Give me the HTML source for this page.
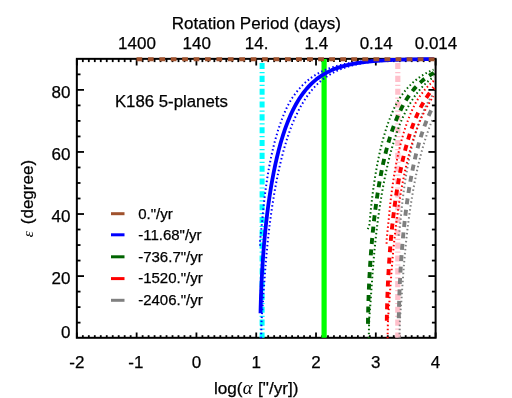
<!DOCTYPE html>
<html><head><meta charset="utf-8"><style>
html,body{margin:0;padding:0;background:#fff;}
svg{display:block;font-family:"Liberation Sans",sans-serif;will-change:transform;}
text{stroke:#000;stroke-width:0.25px;}
</style></head><body>
<svg width="512" height="398" viewBox="0 0 512 398">
<rect width="512" height="398" fill="#fff"/>
<rect x="76.85" y="58.85" width="358.75" height="278.95" fill="none" stroke="#000" stroke-width="2"/>
<line x1="76.85" y1="337.8" x2="76.85" y2="332.5" stroke="#000" stroke-width="1.8"/>
<line x1="76.85" y1="58.9" x2="76.85" y2="65.5" stroke="#000" stroke-width="1.8"/>
<line x1="82.83" y1="337.8" x2="82.83" y2="335.2" stroke="#000" stroke-width="1.8"/>
<line x1="82.83" y1="58.9" x2="82.83" y2="62.1" stroke="#000" stroke-width="1.8"/>
<line x1="88.81" y1="337.8" x2="88.81" y2="335.2" stroke="#000" stroke-width="1.8"/>
<line x1="88.81" y1="58.9" x2="88.81" y2="62.1" stroke="#000" stroke-width="1.8"/>
<line x1="94.79" y1="337.8" x2="94.79" y2="335.2" stroke="#000" stroke-width="1.8"/>
<line x1="94.79" y1="58.9" x2="94.79" y2="62.1" stroke="#000" stroke-width="1.8"/>
<line x1="100.77" y1="337.8" x2="100.77" y2="335.2" stroke="#000" stroke-width="1.8"/>
<line x1="100.77" y1="58.9" x2="100.77" y2="62.1" stroke="#000" stroke-width="1.8"/>
<line x1="106.75" y1="337.8" x2="106.75" y2="335.2" stroke="#000" stroke-width="1.8"/>
<line x1="106.75" y1="58.9" x2="106.75" y2="62.1" stroke="#000" stroke-width="1.8"/>
<line x1="112.72" y1="337.8" x2="112.72" y2="335.2" stroke="#000" stroke-width="1.8"/>
<line x1="112.72" y1="58.9" x2="112.72" y2="62.1" stroke="#000" stroke-width="1.8"/>
<line x1="118.70" y1="337.8" x2="118.70" y2="335.2" stroke="#000" stroke-width="1.8"/>
<line x1="118.70" y1="58.9" x2="118.70" y2="62.1" stroke="#000" stroke-width="1.8"/>
<line x1="124.68" y1="337.8" x2="124.68" y2="335.2" stroke="#000" stroke-width="1.8"/>
<line x1="124.68" y1="58.9" x2="124.68" y2="62.1" stroke="#000" stroke-width="1.8"/>
<line x1="130.66" y1="337.8" x2="130.66" y2="335.2" stroke="#000" stroke-width="1.8"/>
<line x1="130.66" y1="58.9" x2="130.66" y2="62.1" stroke="#000" stroke-width="1.8"/>
<line x1="136.64" y1="337.8" x2="136.64" y2="332.5" stroke="#000" stroke-width="1.8"/>
<line x1="136.64" y1="58.9" x2="136.64" y2="65.5" stroke="#000" stroke-width="1.8"/>
<line x1="142.62" y1="337.8" x2="142.62" y2="335.2" stroke="#000" stroke-width="1.8"/>
<line x1="142.62" y1="58.9" x2="142.62" y2="62.1" stroke="#000" stroke-width="1.8"/>
<line x1="148.60" y1="337.8" x2="148.60" y2="335.2" stroke="#000" stroke-width="1.8"/>
<line x1="148.60" y1="58.9" x2="148.60" y2="62.1" stroke="#000" stroke-width="1.8"/>
<line x1="154.58" y1="337.8" x2="154.58" y2="335.2" stroke="#000" stroke-width="1.8"/>
<line x1="154.58" y1="58.9" x2="154.58" y2="62.1" stroke="#000" stroke-width="1.8"/>
<line x1="160.56" y1="337.8" x2="160.56" y2="335.2" stroke="#000" stroke-width="1.8"/>
<line x1="160.56" y1="58.9" x2="160.56" y2="62.1" stroke="#000" stroke-width="1.8"/>
<line x1="166.54" y1="337.8" x2="166.54" y2="335.2" stroke="#000" stroke-width="1.8"/>
<line x1="166.54" y1="58.9" x2="166.54" y2="62.1" stroke="#000" stroke-width="1.8"/>
<line x1="172.52" y1="337.8" x2="172.52" y2="335.2" stroke="#000" stroke-width="1.8"/>
<line x1="172.52" y1="58.9" x2="172.52" y2="62.1" stroke="#000" stroke-width="1.8"/>
<line x1="178.50" y1="337.8" x2="178.50" y2="335.2" stroke="#000" stroke-width="1.8"/>
<line x1="178.50" y1="58.9" x2="178.50" y2="62.1" stroke="#000" stroke-width="1.8"/>
<line x1="184.47" y1="337.8" x2="184.47" y2="335.2" stroke="#000" stroke-width="1.8"/>
<line x1="184.47" y1="58.9" x2="184.47" y2="62.1" stroke="#000" stroke-width="1.8"/>
<line x1="190.45" y1="337.8" x2="190.45" y2="335.2" stroke="#000" stroke-width="1.8"/>
<line x1="190.45" y1="58.9" x2="190.45" y2="62.1" stroke="#000" stroke-width="1.8"/>
<line x1="196.43" y1="337.8" x2="196.43" y2="332.5" stroke="#000" stroke-width="1.8"/>
<line x1="196.43" y1="58.9" x2="196.43" y2="65.5" stroke="#000" stroke-width="1.8"/>
<line x1="202.41" y1="337.8" x2="202.41" y2="335.2" stroke="#000" stroke-width="1.8"/>
<line x1="202.41" y1="58.9" x2="202.41" y2="62.1" stroke="#000" stroke-width="1.8"/>
<line x1="208.39" y1="337.8" x2="208.39" y2="335.2" stroke="#000" stroke-width="1.8"/>
<line x1="208.39" y1="58.9" x2="208.39" y2="62.1" stroke="#000" stroke-width="1.8"/>
<line x1="214.37" y1="337.8" x2="214.37" y2="335.2" stroke="#000" stroke-width="1.8"/>
<line x1="214.37" y1="58.9" x2="214.37" y2="62.1" stroke="#000" stroke-width="1.8"/>
<line x1="220.35" y1="337.8" x2="220.35" y2="335.2" stroke="#000" stroke-width="1.8"/>
<line x1="220.35" y1="58.9" x2="220.35" y2="62.1" stroke="#000" stroke-width="1.8"/>
<line x1="226.33" y1="337.8" x2="226.33" y2="335.2" stroke="#000" stroke-width="1.8"/>
<line x1="226.33" y1="58.9" x2="226.33" y2="62.1" stroke="#000" stroke-width="1.8"/>
<line x1="232.31" y1="337.8" x2="232.31" y2="335.2" stroke="#000" stroke-width="1.8"/>
<line x1="232.31" y1="58.9" x2="232.31" y2="62.1" stroke="#000" stroke-width="1.8"/>
<line x1="238.29" y1="337.8" x2="238.29" y2="335.2" stroke="#000" stroke-width="1.8"/>
<line x1="238.29" y1="58.9" x2="238.29" y2="62.1" stroke="#000" stroke-width="1.8"/>
<line x1="244.27" y1="337.8" x2="244.27" y2="335.2" stroke="#000" stroke-width="1.8"/>
<line x1="244.27" y1="58.9" x2="244.27" y2="62.1" stroke="#000" stroke-width="1.8"/>
<line x1="250.25" y1="337.8" x2="250.25" y2="335.2" stroke="#000" stroke-width="1.8"/>
<line x1="250.25" y1="58.9" x2="250.25" y2="62.1" stroke="#000" stroke-width="1.8"/>
<line x1="256.23" y1="337.8" x2="256.23" y2="332.5" stroke="#000" stroke-width="1.8"/>
<line x1="256.23" y1="58.9" x2="256.23" y2="65.5" stroke="#000" stroke-width="1.8"/>
<line x1="262.20" y1="337.8" x2="262.20" y2="335.2" stroke="#000" stroke-width="1.8"/>
<line x1="262.20" y1="58.9" x2="262.20" y2="62.1" stroke="#000" stroke-width="1.8"/>
<line x1="268.18" y1="337.8" x2="268.18" y2="335.2" stroke="#000" stroke-width="1.8"/>
<line x1="268.18" y1="58.9" x2="268.18" y2="62.1" stroke="#000" stroke-width="1.8"/>
<line x1="274.16" y1="337.8" x2="274.16" y2="335.2" stroke="#000" stroke-width="1.8"/>
<line x1="274.16" y1="58.9" x2="274.16" y2="62.1" stroke="#000" stroke-width="1.8"/>
<line x1="280.14" y1="337.8" x2="280.14" y2="335.2" stroke="#000" stroke-width="1.8"/>
<line x1="280.14" y1="58.9" x2="280.14" y2="62.1" stroke="#000" stroke-width="1.8"/>
<line x1="286.12" y1="337.8" x2="286.12" y2="335.2" stroke="#000" stroke-width="1.8"/>
<line x1="286.12" y1="58.9" x2="286.12" y2="62.1" stroke="#000" stroke-width="1.8"/>
<line x1="292.10" y1="337.8" x2="292.10" y2="335.2" stroke="#000" stroke-width="1.8"/>
<line x1="292.10" y1="58.9" x2="292.10" y2="62.1" stroke="#000" stroke-width="1.8"/>
<line x1="298.08" y1="337.8" x2="298.08" y2="335.2" stroke="#000" stroke-width="1.8"/>
<line x1="298.08" y1="58.9" x2="298.08" y2="62.1" stroke="#000" stroke-width="1.8"/>
<line x1="304.06" y1="337.8" x2="304.06" y2="335.2" stroke="#000" stroke-width="1.8"/>
<line x1="304.06" y1="58.9" x2="304.06" y2="62.1" stroke="#000" stroke-width="1.8"/>
<line x1="310.04" y1="337.8" x2="310.04" y2="335.2" stroke="#000" stroke-width="1.8"/>
<line x1="310.04" y1="58.9" x2="310.04" y2="62.1" stroke="#000" stroke-width="1.8"/>
<line x1="316.02" y1="337.8" x2="316.02" y2="332.5" stroke="#000" stroke-width="1.8"/>
<line x1="316.02" y1="58.9" x2="316.02" y2="65.5" stroke="#000" stroke-width="1.8"/>
<line x1="322.00" y1="337.8" x2="322.00" y2="335.2" stroke="#000" stroke-width="1.8"/>
<line x1="322.00" y1="58.9" x2="322.00" y2="62.1" stroke="#000" stroke-width="1.8"/>
<line x1="327.98" y1="337.8" x2="327.98" y2="335.2" stroke="#000" stroke-width="1.8"/>
<line x1="327.98" y1="58.9" x2="327.98" y2="62.1" stroke="#000" stroke-width="1.8"/>
<line x1="333.95" y1="337.8" x2="333.95" y2="335.2" stroke="#000" stroke-width="1.8"/>
<line x1="333.95" y1="58.9" x2="333.95" y2="62.1" stroke="#000" stroke-width="1.8"/>
<line x1="339.93" y1="337.8" x2="339.93" y2="335.2" stroke="#000" stroke-width="1.8"/>
<line x1="339.93" y1="58.9" x2="339.93" y2="62.1" stroke="#000" stroke-width="1.8"/>
<line x1="345.91" y1="337.8" x2="345.91" y2="335.2" stroke="#000" stroke-width="1.8"/>
<line x1="345.91" y1="58.9" x2="345.91" y2="62.1" stroke="#000" stroke-width="1.8"/>
<line x1="351.89" y1="337.8" x2="351.89" y2="335.2" stroke="#000" stroke-width="1.8"/>
<line x1="351.89" y1="58.9" x2="351.89" y2="62.1" stroke="#000" stroke-width="1.8"/>
<line x1="357.87" y1="337.8" x2="357.87" y2="335.2" stroke="#000" stroke-width="1.8"/>
<line x1="357.87" y1="58.9" x2="357.87" y2="62.1" stroke="#000" stroke-width="1.8"/>
<line x1="363.85" y1="337.8" x2="363.85" y2="335.2" stroke="#000" stroke-width="1.8"/>
<line x1="363.85" y1="58.9" x2="363.85" y2="62.1" stroke="#000" stroke-width="1.8"/>
<line x1="369.83" y1="337.8" x2="369.83" y2="335.2" stroke="#000" stroke-width="1.8"/>
<line x1="369.83" y1="58.9" x2="369.83" y2="62.1" stroke="#000" stroke-width="1.8"/>
<line x1="375.81" y1="337.8" x2="375.81" y2="332.5" stroke="#000" stroke-width="1.8"/>
<line x1="375.81" y1="58.9" x2="375.81" y2="65.5" stroke="#000" stroke-width="1.8"/>
<line x1="381.79" y1="337.8" x2="381.79" y2="335.2" stroke="#000" stroke-width="1.8"/>
<line x1="381.79" y1="58.9" x2="381.79" y2="62.1" stroke="#000" stroke-width="1.8"/>
<line x1="387.77" y1="337.8" x2="387.77" y2="335.2" stroke="#000" stroke-width="1.8"/>
<line x1="387.77" y1="58.9" x2="387.77" y2="62.1" stroke="#000" stroke-width="1.8"/>
<line x1="393.75" y1="337.8" x2="393.75" y2="335.2" stroke="#000" stroke-width="1.8"/>
<line x1="393.75" y1="58.9" x2="393.75" y2="62.1" stroke="#000" stroke-width="1.8"/>
<line x1="399.73" y1="337.8" x2="399.73" y2="335.2" stroke="#000" stroke-width="1.8"/>
<line x1="399.73" y1="58.9" x2="399.73" y2="62.1" stroke="#000" stroke-width="1.8"/>
<line x1="405.70" y1="337.8" x2="405.70" y2="335.2" stroke="#000" stroke-width="1.8"/>
<line x1="405.70" y1="58.9" x2="405.70" y2="62.1" stroke="#000" stroke-width="1.8"/>
<line x1="411.68" y1="337.8" x2="411.68" y2="335.2" stroke="#000" stroke-width="1.8"/>
<line x1="411.68" y1="58.9" x2="411.68" y2="62.1" stroke="#000" stroke-width="1.8"/>
<line x1="417.66" y1="337.8" x2="417.66" y2="335.2" stroke="#000" stroke-width="1.8"/>
<line x1="417.66" y1="58.9" x2="417.66" y2="62.1" stroke="#000" stroke-width="1.8"/>
<line x1="423.64" y1="337.8" x2="423.64" y2="335.2" stroke="#000" stroke-width="1.8"/>
<line x1="423.64" y1="58.9" x2="423.64" y2="62.1" stroke="#000" stroke-width="1.8"/>
<line x1="429.62" y1="337.8" x2="429.62" y2="335.2" stroke="#000" stroke-width="1.8"/>
<line x1="429.62" y1="58.9" x2="429.62" y2="62.1" stroke="#000" stroke-width="1.8"/>
<line x1="435.60" y1="337.8" x2="435.60" y2="332.5" stroke="#000" stroke-width="1.8"/>
<line x1="435.60" y1="58.9" x2="435.60" y2="65.5" stroke="#000" stroke-width="1.8"/>
<line x1="76.8" y1="322.63" x2="80.5" y2="322.63" stroke="#000" stroke-width="1.8"/>
<line x1="435.6" y1="322.63" x2="431.9" y2="322.63" stroke="#000" stroke-width="1.8"/>
<line x1="76.8" y1="307.12" x2="80.5" y2="307.12" stroke="#000" stroke-width="1.8"/>
<line x1="435.6" y1="307.12" x2="431.9" y2="307.12" stroke="#000" stroke-width="1.8"/>
<line x1="76.8" y1="291.60" x2="80.5" y2="291.60" stroke="#000" stroke-width="1.8"/>
<line x1="435.6" y1="291.60" x2="431.9" y2="291.60" stroke="#000" stroke-width="1.8"/>
<line x1="76.8" y1="276.08" x2="84.0" y2="276.08" stroke="#000" stroke-width="1.8"/>
<line x1="435.6" y1="276.08" x2="428.4" y2="276.08" stroke="#000" stroke-width="1.8"/>
<line x1="76.8" y1="260.57" x2="80.5" y2="260.57" stroke="#000" stroke-width="1.8"/>
<line x1="435.6" y1="260.57" x2="431.9" y2="260.57" stroke="#000" stroke-width="1.8"/>
<line x1="76.8" y1="245.05" x2="80.5" y2="245.05" stroke="#000" stroke-width="1.8"/>
<line x1="435.6" y1="245.05" x2="431.9" y2="245.05" stroke="#000" stroke-width="1.8"/>
<line x1="76.8" y1="229.53" x2="80.5" y2="229.53" stroke="#000" stroke-width="1.8"/>
<line x1="435.6" y1="229.53" x2="431.9" y2="229.53" stroke="#000" stroke-width="1.8"/>
<line x1="76.8" y1="214.02" x2="84.0" y2="214.02" stroke="#000" stroke-width="1.8"/>
<line x1="435.6" y1="214.02" x2="428.4" y2="214.02" stroke="#000" stroke-width="1.8"/>
<line x1="76.8" y1="198.50" x2="80.5" y2="198.50" stroke="#000" stroke-width="1.8"/>
<line x1="435.6" y1="198.50" x2="431.9" y2="198.50" stroke="#000" stroke-width="1.8"/>
<line x1="76.8" y1="182.98" x2="80.5" y2="182.98" stroke="#000" stroke-width="1.8"/>
<line x1="435.6" y1="182.98" x2="431.9" y2="182.98" stroke="#000" stroke-width="1.8"/>
<line x1="76.8" y1="167.47" x2="80.5" y2="167.47" stroke="#000" stroke-width="1.8"/>
<line x1="435.6" y1="167.47" x2="431.9" y2="167.47" stroke="#000" stroke-width="1.8"/>
<line x1="76.8" y1="151.95" x2="84.0" y2="151.95" stroke="#000" stroke-width="1.8"/>
<line x1="435.6" y1="151.95" x2="428.4" y2="151.95" stroke="#000" stroke-width="1.8"/>
<line x1="76.8" y1="136.43" x2="80.5" y2="136.43" stroke="#000" stroke-width="1.8"/>
<line x1="435.6" y1="136.43" x2="431.9" y2="136.43" stroke="#000" stroke-width="1.8"/>
<line x1="76.8" y1="120.92" x2="80.5" y2="120.92" stroke="#000" stroke-width="1.8"/>
<line x1="435.6" y1="120.92" x2="431.9" y2="120.92" stroke="#000" stroke-width="1.8"/>
<line x1="76.8" y1="105.40" x2="80.5" y2="105.40" stroke="#000" stroke-width="1.8"/>
<line x1="435.6" y1="105.40" x2="431.9" y2="105.40" stroke="#000" stroke-width="1.8"/>
<line x1="76.8" y1="89.88" x2="84.0" y2="89.88" stroke="#000" stroke-width="1.8"/>
<line x1="435.6" y1="89.88" x2="428.4" y2="89.88" stroke="#000" stroke-width="1.8"/>
<line x1="76.8" y1="74.37" x2="80.5" y2="74.37" stroke="#000" stroke-width="1.8"/>
<line x1="435.6" y1="74.37" x2="431.9" y2="74.37" stroke="#000" stroke-width="1.8"/>
<line x1="262.1" y1="63.0" x2="262.1" y2="337.8" stroke="#00ffff" stroke-width="5.0" stroke-dasharray="6.1 2.85 1.2 2.68"/>
<line x1="324.1" y1="58.9" x2="324.1" y2="337.8" stroke="#00ff00" stroke-width="5.2"/>
<line x1="397.8" y1="63.0" x2="397.8" y2="337.8" stroke="#ffc0cb" stroke-width="5.2" stroke-dasharray="6.1 2.85 1.2 2.68"/>
<path d="M398.51 235.74 L399.37 231.71 L399.55 229.91 L399.73 228.12 L399.92 226.32 L400.11 224.52 L400.31 222.73 L400.51 220.93 L400.69 219.14 L400.85 217.34 L401.01 215.55 L401.18 213.75 L401.36 211.96 L401.54 210.16 L401.72 208.37 L401.91 206.57 L402.10 204.78 L402.30 202.98 L402.50 201.19 L402.71 199.39 L402.92 197.60 L403.14 195.80 L403.37 194.01 L403.60 192.21 L403.83 190.42 L404.08 188.62 L404.33 186.83 L404.58 185.03 L404.85 183.23 L405.11 181.44 L405.39 179.64 L405.67 177.85 L405.96 176.05 L406.25 174.26 L406.56 172.46 L406.87 170.67 L407.19 168.87 L407.51 167.08 L407.85 165.28 L408.19 163.49 L408.54 161.69 L408.90 159.90 L409.27 158.10 L409.65 156.31 L410.03 154.51 L410.43 152.72 L410.84 150.92 L411.26 149.13 L411.69 147.33 L412.13 145.54 L412.59 143.74 L413.05 141.94 L413.53 140.15 L414.03 138.35 L414.54 136.56 L415.06 134.76 L415.60 132.97 L416.15 131.17 L416.72 129.38 L417.31 127.58 L417.92 125.79 L418.54 123.99 L419.19 122.20 L419.85 120.40 L420.52 118.61 L421.21 116.81 L421.93 115.02 L422.68 113.22 L423.45 111.43 L424.25 109.63 L425.09 107.84 L425.97 106.04 L426.88 104.25 L427.84 102.45 L428.84 100.65 L429.99 98.86 L431.19 97.06 L432.45 95.27 L433.77 93.47" fill="none" stroke="#808080" stroke-width="2.0" stroke-dasharray="1.5 2.5"/>
<path d="M399.51 338.15 L399.56 335.01 L399.62 331.86 L399.70 328.72 L399.77 325.58 L399.86 322.44 L399.97 319.29 L400.19 316.15 L400.42 313.01 L400.66 309.87 L400.90 306.72 L401.16 303.58 L401.41 300.44 L401.61 297.30 L401.81 294.15 L402.02 291.01 L402.25 287.87 L402.48 284.73 L402.72 281.58 L402.94 278.44 L403.15 275.30 L403.38 272.16 L403.62 269.01 L403.86 265.87 L404.12 262.73 L404.38 259.58 L404.66 256.44 L404.94 253.30 L405.24 250.16 L405.54 247.01 L405.86 243.87 L406.18 240.73 L406.52 237.59 L406.87 234.44 L407.23 231.30 L407.60 228.16 L407.99 225.02 L408.39 221.87 L408.80 218.73 L409.22 215.59 L409.66 212.45 L410.11 209.30 L410.58 206.16 L411.06 203.02 L411.55 199.87 L412.07 196.73 L412.60 193.59 L413.14 190.45 L413.71 187.30 L414.29 184.16 L414.90 181.02 L415.52 177.88 L416.16 174.73 L416.83 171.59 L417.52 168.45 L418.23 165.31 L418.97 162.16 L419.74 159.02 L420.54 155.88 L421.36 152.74 L422.22 149.59 L423.11 146.45 L424.04 143.31 L425.00 140.17 L426.01 137.02 L427.06 133.88 L428.17 130.74 L429.32 127.59 L430.53 124.45 L431.80 121.31 L433.18 118.17" fill="none" stroke="#808080" stroke-width="2.0" stroke-dasharray="1.5 2.5"/>
<path d="M398.77 318.29 L398.82 315.40 L398.88 312.51 L398.94 309.62 L399.01 306.72 L399.09 303.83 L399.18 300.94 L399.27 298.05 L399.37 295.16 L399.48 292.27 L399.60 289.38 L399.72 286.49 L399.85 283.59 L399.99 280.70 L400.13 277.81 L400.28 274.92 L400.45 272.03 L400.61 269.14 L400.79 266.25 L400.98 263.36 L401.17 260.46 L401.37 257.57 L401.58 254.68 L401.80 251.79 L402.03 248.90 L402.26 246.01 L402.51 243.12 L402.76 240.23 L403.03 237.33 L403.30 234.44 L403.58 231.55 L403.88 228.66 L404.18 225.77 L404.49 222.88 L404.82 219.99 L405.16 217.10 L405.50 214.21 L405.86 211.31 L406.24 208.42 L406.62 205.53 L407.02 202.64 L407.43 199.75 L407.85 196.86 L408.29 193.97 L408.74 191.08 L409.20 188.18 L409.69 185.29 L410.18 182.40 L410.70 179.51 L411.23 176.62 L411.78 173.73 L412.35 170.84 L412.94 167.95 L413.55 165.05 L414.18 162.16 L414.84 159.27 L415.52 156.38 L416.22 153.49 L416.95 150.60 L417.71 147.71 L418.50 144.82 L419.32 141.93 L420.17 139.03 L421.06 136.14 L421.99 133.25 L422.96 130.36 L423.98 127.47 L425.04 124.58 L426.16 121.69 L427.33 118.80 L428.57 115.90 L429.88 113.01 L431.26 110.12 L432.73 107.23" fill="none" stroke="#808080" stroke-width="3.9" stroke-dasharray="6.0 5.43"/>
<path d="M386.58 243.81 L386.68 239.77 L386.85 237.88 L387.03 235.98 L387.21 234.08 L387.39 232.18 L387.58 230.29 L387.78 228.39 L387.98 226.49 L388.18 224.60 L388.39 222.70 L388.60 220.80 L388.78 218.90 L388.95 217.01 L389.13 215.11 L389.31 213.21 L389.50 211.31 L389.69 209.42 L389.88 207.52 L390.08 205.62 L390.29 203.72 L390.50 201.83 L390.72 199.93 L390.95 198.03 L391.18 196.14 L391.41 194.24 L391.66 192.34 L391.90 190.44 L392.16 188.55 L392.43 186.65 L392.70 184.75 L392.98 182.85 L393.26 180.96 L393.55 179.06 L393.85 177.16 L394.16 175.26 L394.48 173.37 L394.80 171.47 L395.14 169.57 L395.48 167.67 L395.83 165.78 L396.19 163.88 L396.56 161.98 L396.94 160.09 L397.32 158.19 L397.72 156.29 L398.13 154.39 L398.56 152.50 L398.99 150.60 L399.44 148.70 L399.89 146.80 L400.37 144.91 L400.85 143.01 L401.35 141.11 L401.86 139.21 L402.39 137.32 L402.94 135.42 L403.50 133.52 L404.08 131.63 L404.68 129.73 L405.30 127.83 L405.94 125.93 L406.60 124.04 L407.29 122.14 L407.99 120.24 L408.70 118.34 L409.43 116.45 L410.20 114.55 L410.99 112.65 L411.82 110.75 L412.69 108.86 L413.59 106.96 L414.54 105.06 L415.52 103.16 L416.56 101.27 L417.73 99.37 L418.98 97.47 L420.30 95.58 L421.69 93.68 L423.15 91.78 L424.71 89.88 L424.71 89.88 L424.92 89.63 L425.13 89.38 L425.35 89.13 L425.57 88.88 L425.78 88.63 L426.01 88.38 L426.23 88.13 L426.45 87.88 L426.68 87.63 L426.91 87.38 L427.14 87.13 L427.37 86.88 L427.61 86.63 L427.84 86.38 L428.08 86.13 L428.32 85.88 L428.57 85.63 L428.81 85.38 L429.06 85.13 L429.31 84.88 L429.57 84.63 L429.82 84.38 L430.08 84.13 L430.34 83.87 L430.60 83.62 L430.87 83.37 L431.14 83.12 L431.41 82.87 L431.68 82.62 L431.96 82.37 L432.24 82.12 L432.52 81.87 L432.81 81.62 L433.10 81.37 L433.39 81.12 L433.69 80.87 L433.99 80.62" fill="none" stroke="#ff0000" stroke-width="2.0" stroke-dasharray="1.5 2.5"/>
<path d="M387.58 338.15 L387.64 335.01 L387.70 331.86 L387.77 328.72 L387.85 325.58 L387.94 322.44 L388.04 319.29 L388.26 316.15 L388.49 313.01 L388.73 309.87 L388.98 306.72 L389.23 303.58 L389.48 300.44 L389.68 297.30 L389.89 294.15 L390.10 291.01 L390.32 287.87 L390.55 284.73 L390.79 281.58 L391.01 278.44 L391.23 275.30 L391.46 272.16 L391.69 269.01 L391.94 265.87 L392.19 262.73 L392.46 259.58 L392.73 256.44 L393.01 253.30 L393.31 250.16 L393.61 247.01 L393.93 243.87 L394.26 240.73 L394.60 237.59 L394.95 234.44 L395.31 231.30 L395.68 228.16 L396.06 225.02 L396.46 221.87 L396.87 218.73 L397.30 215.59 L397.73 212.45 L398.19 209.30 L398.65 206.16 L399.13 203.02 L399.63 199.87 L400.14 196.73 L400.67 193.59 L401.22 190.45 L401.78 187.30 L402.37 184.16 L402.97 181.02 L403.59 177.88 L404.24 174.73 L404.90 171.59 L405.59 168.45 L406.31 165.31 L407.05 162.16 L407.82 159.02 L408.61 155.88 L409.44 152.74 L410.29 149.59 L411.18 146.45 L412.11 143.31 L413.08 140.17 L414.09 137.02 L415.14 133.88 L416.24 130.74 L417.39 127.59 L418.60 124.45 L419.88 121.31 L421.25 118.17 L422.71 115.02 L424.25 111.88 L425.89 108.74 L427.63 105.60 L429.49 102.45 L431.47 99.31 L433.58 96.17" fill="none" stroke="#ff0000" stroke-width="2.0" stroke-dasharray="1.5 2.5"/>
<path d="M386.81 320.77 L386.85 317.85 L386.90 314.93 L386.96 312.00 L387.03 309.08 L387.10 306.16 L387.18 303.24 L387.27 300.31 L387.37 297.39 L387.47 294.47 L387.58 291.55 L387.70 288.62 L387.83 285.70 L387.96 282.78 L388.10 279.85 L388.25 276.93 L388.41 274.01 L388.57 271.09 L388.75 268.16 L388.93 265.24 L389.12 262.32 L389.32 259.40 L389.52 256.47 L389.74 253.55 L389.96 250.63 L390.20 247.71 L390.44 244.78 L390.69 241.86 L390.95 238.94 L391.22 236.01 L391.50 233.09 L391.80 230.17 L392.10 227.25 L392.41 224.32 L392.73 221.40 L393.07 218.48 L393.41 215.56 L393.77 212.63 L394.14 209.71 L394.52 206.79 L394.92 203.87 L395.33 200.94 L395.75 198.02 L396.19 195.10 L396.64 192.18 L397.10 189.25 L397.59 186.33 L398.08 183.41 L398.60 180.48 L399.13 177.56 L399.68 174.64 L400.25 171.72 L400.84 168.79 L401.45 165.87 L402.08 162.95 L402.74 160.03 L403.42 157.10 L404.12 154.18 L404.86 151.26 L405.62 148.34 L406.41 145.41 L407.23 142.49 L408.09 139.57 L408.98 136.65 L409.91 133.72 L410.89 130.80 L411.91 127.88 L412.98 124.95 L414.10 122.03 L415.28 119.11 L416.52 116.19 L417.83 113.26 L419.23 110.34 L420.70 107.42 L422.28 104.50 L423.96 101.57 L425.77 98.65 L427.72 95.73 L429.83 92.81 L432.14 89.88 L432.14 89.88 L432.35 89.63 L432.56 89.38 L432.77 89.13 L432.99 88.88 L433.20 88.63 L433.42 88.38 L433.64 88.13 L433.86 87.88 L434.08 87.63" fill="none" stroke="#ff0000" stroke-width="3.9" stroke-dasharray="6.0 5.43"/>
<path d="M367.77 229.22 L369.31 225.19 L369.50 223.48 L369.69 221.76 L369.87 220.05 L370.03 218.34 L370.18 216.63 L370.34 214.91 L370.50 213.20 L370.67 211.49 L370.84 209.77 L371.02 208.06 L371.20 206.35 L371.38 204.64 L371.57 202.92 L371.77 201.21 L371.97 199.50 L372.17 197.79 L372.38 196.07 L372.59 194.36 L372.81 192.65 L373.03 190.93 L373.26 189.22 L373.50 187.51 L373.74 185.80 L373.99 184.08 L374.24 182.37 L374.50 180.66 L374.76 178.95 L375.04 177.23 L375.31 175.52 L375.60 173.81 L375.89 172.09 L376.19 170.38 L376.49 168.67 L376.80 166.96 L377.12 165.24 L377.45 163.53 L377.78 161.82 L378.12 160.11 L378.47 158.39 L378.83 156.68 L379.20 154.97 L379.58 153.25 L379.97 151.54 L380.36 149.83 L380.77 148.12 L381.19 146.40 L381.61 144.69 L382.05 142.98 L382.50 141.27 L382.96 139.55 L383.44 137.84 L383.93 136.13 L384.43 134.41 L384.94 132.70 L385.47 130.99 L386.02 129.28 L386.58 127.56 L387.16 125.85 L387.76 124.14 L388.37 122.43 L389.01 120.71 L389.64 119.00 L390.29 117.29 L390.97 115.57 L391.67 113.86 L392.40 112.15 L393.16 110.44 L393.94 108.72 L394.76 107.01 L395.61 105.30 L396.49 103.59 L397.42 101.87 L398.42 100.16 L399.52 98.45 L400.68 96.73 L401.89 95.02 L403.16 93.31 L404.49 91.60 L405.90 89.88 L405.90 89.88 L406.11 89.63 L406.33 89.38 L406.54 89.13 L406.76 88.88 L406.98 88.63 L407.20 88.38 L407.42 88.13 L407.65 87.88 L407.87 87.63 L408.10 87.38 L408.33 87.13 L408.56 86.88 L408.80 86.63 L409.04 86.38 L409.28 86.13 L409.52 85.88 L409.76 85.63 L410.01 85.38 L410.25 85.13 L410.51 84.88 L410.76 84.63 L411.01 84.38 L411.27 84.13 L411.53 83.87 L411.80 83.62 L412.06 83.37 L412.33 83.12 L412.60 82.87 L412.88 82.62 L413.15 82.37 L413.43 82.12 L413.72 81.87 L414.00 81.62 L414.29 81.37 L414.58 81.12 L414.88 80.87 L415.18 80.62 L415.48 80.37 L415.79 80.12 L416.10 79.87 L416.41 79.62 L416.73 79.37 L417.05 79.12 L417.37 78.87 L417.70 78.62 L418.04 78.37 L418.37 78.12 L418.72 77.87 L419.06 77.62 L419.41 77.37 L419.77 77.12 L420.13 76.86 L420.50 76.61 L420.87 76.36 L421.25 76.11 L421.63 75.86 L422.01 75.61 L422.41 75.36 L422.81 75.11 L423.21 74.86 L423.63 74.61 L424.04 74.36 L424.47 74.11 L424.89 73.86 L425.33 73.61 L425.77 73.36 L426.22 73.11 L426.68 72.86 L427.15 72.61 L427.63 72.36 L428.11 72.11 L428.60 71.86 L429.11 71.61 L429.62 71.36 L430.15 71.11 L430.68 70.86 L431.23 70.61 L431.79 70.36 L432.36 70.11 L432.94 69.86 L433.54 69.60" fill="none" stroke="#006400" stroke-width="2.0" stroke-dasharray="1.5 2.5"/>
<path d="M368.77 338.15 L368.83 335.01 L368.89 331.86 L368.96 328.72 L369.04 325.58 L369.13 322.44 L369.23 319.29 L369.45 316.15 L369.68 313.01 L369.92 309.87 L370.17 306.72 L370.42 303.58 L370.68 300.44 L370.87 297.30 L371.08 294.15 L371.29 291.01 L371.51 287.87 L371.75 284.73 L371.99 281.58 L372.20 278.44 L372.42 275.30 L372.65 272.16 L372.88 269.01 L373.13 265.87 L373.38 262.73 L373.65 259.58 L373.92 256.44 L374.21 253.30 L374.50 250.16 L374.81 247.01 L375.12 243.87 L375.45 240.73 L375.79 237.59 L376.14 234.44 L376.50 231.30 L376.87 228.16 L377.26 225.02 L377.65 221.87 L378.07 218.73 L378.49 215.59 L378.93 212.45 L379.38 209.30 L379.84 206.16 L380.33 203.02 L380.82 199.87 L381.33 196.73 L381.86 193.59 L382.41 190.45 L382.97 187.30 L383.56 184.16 L384.16 181.02 L384.79 177.88 L385.43 174.73 L386.10 171.59 L386.79 168.45 L387.50 165.31 L388.24 162.16 L389.01 159.02 L389.80 155.88 L390.63 152.74 L391.49 149.59 L392.38 146.45 L393.30 143.31 L394.27 140.17 L395.28 137.02 L396.33 133.88 L397.43 130.74 L398.59 127.59 L399.80 124.45 L401.07 121.31 L402.45 118.17 L403.90 115.02 L405.44 111.88 L407.08 108.74 L408.82 105.60 L410.68 102.45 L412.66 99.31 L414.77 96.17 L417.08 93.03 L419.60 89.88 L419.60 89.88 L419.81 89.63 L420.03 89.38 L420.24 89.13 L420.46 88.88 L420.68 88.63 L420.90 88.38 L421.12 88.13 L421.35 87.88 L421.57 87.63 L421.80 87.38 L422.03 87.13 L422.26 86.88 L422.50 86.63 L422.74 86.38 L422.98 86.13 L423.22 85.88 L423.46 85.63 L423.71 85.38 L423.95 85.13 L424.21 84.88 L424.46 84.63 L424.71 84.38 L424.97 84.13 L425.23 83.87 L425.50 83.62 L425.76 83.37 L426.03 83.12 L426.30 82.87 L426.58 82.62 L426.85 82.37 L427.13 82.12 L427.42 81.87 L427.70 81.62 L427.99 81.37 L428.28 81.12 L428.58 80.87 L428.88 80.62 L429.18 80.37 L429.49 80.12 L429.80 79.87 L430.11 79.62 L430.43 79.37 L430.75 79.12 L431.07 78.87 L431.40 78.62 L431.74 78.37 L432.07 78.12 L432.42 77.87 L432.76 77.62 L433.11 77.37 L433.47 77.12 L433.83 76.86" fill="none" stroke="#006400" stroke-width="2.0" stroke-dasharray="1.5 2.5"/>
<path d="M367.96 323.87 L368.00 320.91 L368.04 317.95 L368.09 314.99 L368.15 312.03 L368.22 309.07 L368.30 306.10 L368.38 303.14 L368.47 300.18 L368.57 297.22 L368.67 294.26 L368.79 291.29 L368.91 288.33 L369.03 285.37 L369.17 282.41 L369.32 279.45 L369.47 276.48 L369.63 273.52 L369.80 270.56 L369.97 267.60 L370.16 264.64 L370.35 261.67 L370.56 258.71 L370.77 255.75 L370.99 252.79 L371.22 249.83 L371.46 246.86 L371.71 243.90 L371.96 240.94 L372.23 237.98 L372.51 235.02 L372.80 232.06 L373.10 229.09 L373.41 226.13 L373.73 223.17 L374.06 220.21 L374.41 217.25 L374.76 214.28 L375.13 211.32 L375.51 208.36 L375.90 205.40 L376.31 202.44 L376.73 199.47 L377.17 196.51 L377.62 193.55 L378.08 190.59 L378.56 187.63 L379.06 184.66 L379.57 181.70 L380.11 178.74 L380.66 175.78 L381.23 172.82 L381.82 169.86 L382.43 166.89 L383.06 163.93 L383.72 160.97 L384.40 158.01 L385.10 155.05 L385.84 152.08 L386.60 149.12 L387.39 146.16 L388.22 143.20 L389.08 140.24 L389.98 137.27 L390.91 134.31 L391.89 131.35 L392.92 128.39 L393.99 125.43 L395.12 122.46 L396.31 119.50 L397.56 116.54 L398.88 113.58 L400.28 110.62 L401.77 107.65 L403.36 104.69 L405.06 101.73 L406.88 98.77 L408.85 95.81 L410.99 92.85 L413.33 89.88 L413.33 89.88 L413.54 89.63 L413.75 89.38 L413.96 89.13 L414.18 88.88 L414.39 88.63 L414.61 88.38 L414.83 88.13 L415.05 87.88 L415.27 87.63 L415.50 87.38 L415.73 87.13 L415.95 86.88 L416.19 86.63 L416.42 86.38 L416.65 86.13 L416.89 85.88 L417.13 85.63 L417.37 85.38 L417.62 85.13 L417.86 84.88 L418.11 84.63 L418.37 84.38 L418.62 84.13 L418.88 83.87 L419.14 83.62 L419.40 83.37 L419.66 83.12 L419.93 82.87 L420.20 82.62 L420.47 82.37 L420.75 82.12 L421.03 81.87 L421.31 81.62 L421.60 81.37 L421.89 81.12 L422.18 80.87 L422.47 80.62 L422.77 80.37 L423.07 80.12 L423.38 79.87 L423.69 79.62 L424.00 79.37 L424.32 79.12 L424.64 78.87 L424.97 78.62 L425.30 78.37 L425.63 78.12 L425.97 77.87 L426.31 77.62 L426.66 77.37 L427.01 77.12 L427.37 76.86 L427.73 76.61 L428.10 76.36 L428.47 76.11 L428.85 75.86 L429.23 75.61 L429.62 75.36 L430.02 75.11 L430.42 74.86 L430.83 74.61 L431.24 74.36 L431.67 74.11 L432.09 73.86 L432.53 73.61 L432.97 73.36 L433.42 73.11 L433.88 72.86" fill="none" stroke="#006400" stroke-width="3.9" stroke-dasharray="6.0 5.43"/>
<path d="M260.16 245.67 L260.09 241.64 L260.26 239.72 L260.43 237.79 L260.61 235.87 L260.80 233.95 L260.99 232.03 L261.18 230.11 L261.38 228.19 L261.58 226.27 L261.78 224.35 L262.00 222.43 L262.21 220.51 L262.39 218.59 L262.56 216.66 L262.74 214.74 L262.92 212.82 L263.11 210.90 L263.31 208.98 L263.51 207.06 L263.71 205.14 L263.92 203.22 L264.14 201.30 L264.36 199.38 L264.59 197.46 L264.83 195.53 L265.07 193.61 L265.32 191.69 L265.57 189.77 L265.83 187.85 L266.11 185.93 L266.38 184.01 L266.67 182.09 L266.96 180.17 L267.26 178.25 L267.57 176.32 L267.88 174.40 L268.21 172.48 L268.54 170.56 L268.88 168.64 L269.23 166.72 L269.59 164.80 L269.96 162.88 L270.34 160.96 L270.73 159.04 L271.13 157.12 L271.54 155.19 L271.96 153.27 L272.39 151.35 L272.84 149.43 L273.30 147.51 L273.77 145.59 L274.26 143.67 L274.76 141.75 L275.27 139.83 L275.80 137.91 L276.35 135.99 L276.92 134.06 L277.50 132.14 L278.10 130.22 L278.72 128.30 L279.37 126.38 L280.03 124.46 L280.72 122.54 L281.43 120.62 L282.14 118.70 L282.88 116.78 L283.65 114.86 L284.45 112.93 L285.28 111.01 L286.15 109.09 L287.06 107.17 L288.02 105.25 L289.01 103.33 L290.06 101.41 L291.23 99.49 L292.50 97.57 L293.83 95.65 L295.23 93.73 L296.71 91.80 L298.28 89.88 L298.28 89.88 L298.50 89.63 L298.71 89.38 L298.92 89.13 L299.14 88.88 L299.36 88.63 L299.58 88.38 L299.81 88.13 L300.03 87.88 L300.26 87.63 L300.49 87.38 L300.72 87.13 L300.95 86.88 L301.18 86.63 L301.42 86.38 L301.66 86.13 L301.90 85.88 L302.14 85.63 L302.39 85.38 L302.64 85.13 L302.89 84.88 L303.14 84.63 L303.40 84.38 L303.66 84.13 L303.92 83.87 L304.18 83.62 L304.45 83.37 L304.71 83.12 L304.99 82.87 L305.26 82.62 L305.54 82.37 L305.82 82.12 L306.10 81.87 L306.39 81.62 L306.68 81.37 L306.97 81.12 L307.26 80.87 L307.56 80.62 L307.87 80.37 L308.17 80.12 L308.48 79.87 L308.79 79.62 L309.11 79.37 L309.43 79.12 L309.76 78.87 L310.09 78.62 L310.42 78.37 L310.76 78.12 L311.10 77.87 L311.45 77.62 L311.80 77.37 L312.16 77.12 L312.52 76.86 L312.88 76.61 L313.25 76.36 L313.63 76.11 L314.01 75.86 L314.40 75.61 L314.79 75.36 L315.19 75.11 L315.60 74.86 L316.01 74.61 L316.43 74.36 L316.85 74.11 L317.28 73.86 L317.71 73.61 L318.16 73.36 L318.61 73.11 L319.07 72.86 L319.53 72.61 L320.01 72.36 L320.49 72.11 L320.99 71.86 L321.49 71.61 L322.01 71.36 L322.53 71.11 L323.07 70.86 L323.61 70.61 L324.17 70.36 L324.74 70.11 L325.32 69.86 L325.92 69.60 L326.53 69.35 L327.16 69.10 L327.80 68.85 L328.46 68.60 L329.13 68.35 L329.82 68.10 L330.53 67.85 L331.27 67.60 L332.02 67.35 L332.80 67.10 L333.59 66.85 L334.42 66.60 L335.27 66.35 L336.15 66.10 L337.06 65.85 L338.01 65.60 L338.99 65.35 L340.01 65.10 L341.07 64.85 L342.18 64.60 L343.34 64.35 L344.55 64.10 L345.81 63.85 L347.15 63.60 L348.56 63.35 L350.04 63.10 L351.62 62.85 L353.30 62.59 L355.10 62.34 L357.03 62.09 L359.11 61.84 L361.38 61.59 L363.86 61.34 L366.61 61.09 L369.69 60.84 L373.17 60.59 L377.20 60.34 L381.97 60.09 L381.97 60.09 L382.41 60.07 L382.86 60.05 L383.31 60.03 L383.77 60.01 L384.24 59.99 L384.72 59.97 L385.21 59.95 L385.71 59.93 L386.21 59.90 L386.73 59.88 L387.26 59.86 L387.79 59.84 L388.34 59.82 L388.91 59.80 L389.48 59.78 L390.07 59.76 L390.67 59.74 L391.28 59.72 L391.91 59.70 L392.56 59.68 L393.22 59.66 L393.90 59.63 L394.59 59.61 L395.31 59.59 L396.05 59.57 L396.81 59.55 L397.59 59.53 L398.39 59.51 L399.22 59.49 L400.08 59.47 L400.97 59.45 L401.89 59.43 L402.84 59.41 L403.83 59.38 L404.86 59.36 L405.93 59.34 L407.05 59.32 L408.22 59.30 L409.44 59.28 L410.72 59.26 L412.07 59.24 L413.49 59.22 L415.00 59.20 L416.60 59.18 L418.30 59.16 L420.13 59.14 L422.09 59.11 L424.21 59.09 L426.52 59.07 L429.06 59.05 L431.87 59.03" fill="none" stroke="#0000ff" stroke-width="2.0" stroke-dasharray="1.5 2.5"/>
<path d="M261.16 338.15 L261.21 335.01 L261.28 331.86 L261.35 328.72 L261.42 325.58 L261.51 322.44 L261.62 319.29 L261.84 316.15 L262.07 313.01 L262.31 309.87 L262.55 306.72 L262.81 303.58 L263.06 300.44 L263.26 297.30 L263.46 294.15 L263.68 291.01 L263.90 287.87 L264.13 284.73 L264.37 281.58 L264.59 278.44 L264.81 275.30 L265.03 272.16 L265.27 269.01 L265.51 265.87 L265.77 262.73 L266.03 259.58 L266.31 256.44 L266.59 253.30 L266.89 250.16 L267.19 247.01 L267.51 243.87 L267.83 240.73 L268.17 237.59 L268.52 234.44 L268.88 231.30 L269.26 228.16 L269.64 225.02 L270.04 221.87 L270.45 218.73 L270.87 215.59 L271.31 212.45 L271.76 209.30 L272.23 206.16 L272.71 203.02 L273.21 199.87 L273.72 196.73 L274.25 193.59 L274.79 190.45 L275.36 187.30 L275.94 184.16 L276.55 181.02 L277.17 177.88 L277.81 174.73 L278.48 171.59 L279.17 168.45 L279.89 165.31 L280.63 162.16 L281.39 159.02 L282.19 155.88 L283.01 152.74 L283.87 149.59 L284.76 146.45 L285.69 143.31 L286.65 140.17 L287.66 137.02 L288.71 133.88 L289.82 130.74 L290.97 127.59 L292.18 124.45 L293.45 121.31 L294.83 118.17 L296.29 115.02 L297.83 111.88 L299.46 108.74 L301.20 105.60 L303.07 102.45 L305.04 99.31 L307.16 96.17 L309.46 93.03 L311.98 89.88 L311.98 89.88 L312.20 89.63 L312.41 89.38 L312.62 89.13 L312.84 88.88 L313.06 88.63 L313.28 88.38 L313.51 88.13 L313.73 87.88 L313.96 87.63 L314.19 87.38 L314.42 87.13 L314.65 86.88 L314.88 86.63 L315.12 86.38 L315.36 86.13 L315.60 85.88 L315.84 85.63 L316.09 85.38 L316.34 85.13 L316.59 84.88 L316.84 84.63 L317.10 84.38 L317.36 84.13 L317.62 83.87 L317.88 83.62 L318.15 83.37 L318.41 83.12 L318.69 82.87 L318.96 82.62 L319.24 82.37 L319.52 82.12 L319.80 81.87 L320.09 81.62 L320.38 81.37 L320.67 81.12 L320.96 80.87 L321.26 80.62 L321.57 80.37 L321.87 80.12 L322.18 79.87 L322.49 79.62 L322.81 79.37 L323.13 79.12 L323.46 78.87 L323.79 78.62 L324.12 78.37 L324.46 78.12 L324.80 77.87 L325.15 77.62 L325.50 77.37 L325.86 77.12 L326.22 76.86 L326.58 76.61 L326.95 76.36 L327.33 76.11 L327.71 75.86 L328.10 75.61 L328.49 75.36 L328.89 75.11 L329.30 74.86 L329.71 74.61 L330.13 74.36 L330.55 74.11 L330.98 73.86 L331.42 73.61 L331.86 73.36 L332.32 73.11 L332.78 72.86 L333.25 72.61 L333.72 72.36 L334.21 72.11 L334.70 71.86 L335.21 71.61 L335.73 71.36 L336.25 71.11 L336.79 70.86 L337.34 70.61 L337.90 70.36 L338.47 70.11 L339.05 69.86 L339.65 69.60 L340.26 69.35 L340.89 69.10 L341.53 68.85 L342.19 68.60 L342.87 68.35 L343.56 68.10 L344.28 67.85 L345.01 67.60 L345.76 67.35 L346.54 67.10 L347.34 66.85 L348.17 66.60 L349.02 66.35 L349.91 66.10 L350.82 65.85 L351.77 65.60 L352.75 65.35 L353.77 65.10 L354.83 64.85 L355.94 64.60 L357.10 64.35 L358.31 64.10 L359.58 63.85 L360.92 63.60 L362.33 63.35 L363.82 63.10 L365.40 62.85 L367.08 62.59 L368.88 62.34 L370.81 62.09 L372.89 61.84 L375.16 61.59 L377.65 61.34 L380.40 61.09 L383.47 60.84 L386.96 60.59 L390.99 60.34 L395.76 60.09 L395.76 60.09 L396.20 60.07 L396.65 60.05 L397.10 60.03 L397.56 60.01 L398.03 59.99 L398.51 59.97 L399.00 59.95 L399.50 59.93 L400.01 59.90 L400.52 59.88 L401.05 59.86 L401.59 59.84 L402.14 59.82 L402.70 59.80 L403.27 59.78 L403.86 59.76 L404.46 59.74 L405.08 59.72 L405.71 59.70 L406.35 59.68 L407.01 59.66 L407.69 59.63 L408.39 59.61 L409.11 59.59 L409.84 59.57 L410.60 59.55 L411.38 59.53 L412.19 59.51 L413.02 59.49 L413.88 59.47 L414.77 59.45 L415.69 59.43 L416.64 59.41 L417.63 59.38 L418.66 59.36 L419.73 59.34 L420.85 59.32 L422.01 59.30 L423.24 59.28 L424.52 59.26 L425.87 59.24 L427.29 59.22 L428.80 59.20 L430.40 59.18 L432.10 59.16 L433.92 59.14" fill="none" stroke="#0000ff" stroke-width="2.0" stroke-dasharray="1.5 2.5"/>
<path d="M260.51 313.32 L260.57 310.49 L260.64 307.67 L260.72 304.84 L260.80 302.01 L260.89 299.18 L260.98 296.35 L261.08 293.52 L261.19 290.70 L261.31 287.87 L261.43 285.04 L261.56 282.21 L261.70 279.38 L261.85 276.55 L262.00 273.73 L262.16 270.90 L262.33 268.07 L262.50 265.24 L262.69 262.41 L262.88 259.58 L263.08 256.76 L263.29 253.93 L263.50 251.10 L263.73 248.27 L263.96 245.44 L264.20 242.61 L264.45 239.79 L264.71 236.96 L264.98 234.13 L265.26 231.30 L265.55 228.47 L265.84 225.64 L266.15 222.82 L266.47 219.99 L266.80 217.16 L267.14 214.33 L267.49 211.50 L267.85 208.67 L268.23 205.85 L268.61 203.02 L269.01 200.19 L269.42 197.36 L269.85 194.53 L270.29 191.70 L270.74 188.88 L271.21 186.05 L271.69 183.22 L272.19 180.39 L272.71 177.56 L273.24 174.73 L273.79 171.91 L274.36 169.08 L274.95 166.25 L275.56 163.42 L276.19 160.59 L276.84 157.76 L277.52 154.94 L278.22 152.11 L278.94 149.28 L279.70 146.45 L280.48 143.62 L281.30 140.79 L282.15 137.97 L283.03 135.14 L283.95 132.31 L284.92 129.48 L285.93 126.65 L286.98 123.82 L288.09 121.00 L289.25 118.17 L290.47 115.34 L291.76 112.51 L293.13 109.68 L294.58 106.85 L296.12 104.03 L297.76 101.20 L299.52 98.37 L301.42 95.54 L303.48 92.71 L305.72 89.88 L305.72 89.88 L305.93 89.63 L306.14 89.38 L306.35 89.13 L306.56 88.88 L306.78 88.63 L306.99 88.38 L307.21 88.13 L307.43 87.88 L307.66 87.63 L307.88 87.38 L308.11 87.13 L308.34 86.88 L308.57 86.63 L308.80 86.38 L309.04 86.13 L309.28 85.88 L309.52 85.63 L309.76 85.38 L310.00 85.13 L310.25 84.88 L310.50 84.63 L310.75 84.38 L311.00 84.13 L311.26 83.87 L311.52 83.62 L311.78 83.37 L312.05 83.12 L312.31 82.87 L312.58 82.62 L312.86 82.37 L313.13 82.12 L313.41 81.87 L313.70 81.62 L313.98 81.37 L314.27 81.12 L314.56 80.87 L314.86 80.62 L315.16 80.37 L315.46 80.12 L315.76 79.87 L316.07 79.62 L316.39 79.37 L316.71 79.12 L317.03 78.87 L317.35 78.62 L317.68 78.37 L318.02 78.12 L318.35 77.87 L318.70 77.62 L319.04 77.37 L319.40 77.12 L319.75 76.86 L320.12 76.61 L320.48 76.36 L320.86 76.11 L321.23 75.86 L321.62 75.61 L322.01 75.36 L322.40 75.11 L322.80 74.86 L323.21 74.61 L323.63 74.36 L324.05 74.11 L324.48 73.86 L324.91 73.61 L325.36 73.36 L325.81 73.11 L326.27 72.86 L326.73 72.61 L327.21 72.36 L327.69 72.11 L328.19 71.86 L328.69 71.61 L329.21 71.36 L329.73 71.11 L330.27 70.86 L330.81 70.61 L331.37 70.36 L331.94 70.11 L332.52 69.86 L333.12 69.60 L333.73 69.35 L334.36 69.10 L335.00 68.85 L335.66 68.60 L336.33 68.35 L337.02 68.10 L337.73 67.85 L338.47 67.60 L339.22 67.35 L340.00 67.10 L340.79 66.85 L341.62 66.60 L342.47 66.35 L343.35 66.10 L344.26 65.85 L345.21 65.60 L346.19 65.35 L347.21 65.10 L348.27 64.85 L349.38 64.60 L350.54 64.35 L351.75 64.10 L353.01 63.85 L354.35 63.60 L355.76 63.35 L357.24 63.10 L358.82 62.85 L360.50 62.59 L362.30 62.34 L364.23 62.09 L366.31 61.84 L368.58 61.59 L371.06 61.34 L373.81 61.09 L376.89 60.84 L380.37 60.59 L384.40 60.34 L389.17 60.09 L389.17 60.09 L389.61 60.07 L390.06 60.05 L390.51 60.03 L390.97 60.01 L391.44 59.99 L391.92 59.97 L392.41 59.95 L392.91 59.93 L393.41 59.90 L393.93 59.88 L394.46 59.86 L394.99 59.84 L395.54 59.82 L396.11 59.80 L396.68 59.78 L397.27 59.76 L397.87 59.74 L398.48 59.72 L399.11 59.70 L399.76 59.68 L400.42 59.66 L401.10 59.63 L401.79 59.61 L402.51 59.59 L403.25 59.57 L404.01 59.55 L404.79 59.53 L405.59 59.51 L406.42 59.49 L407.28 59.47 L408.17 59.45 L409.09 59.43 L410.04 59.41 L411.03 59.38 L412.06 59.36 L413.13 59.34 L414.25 59.32 L415.42 59.30 L416.64 59.28 L417.92 59.26 L419.27 59.24 L420.69 59.22 L422.20 59.20 L423.80 59.18 L425.50 59.16 L427.33 59.14 L429.29 59.11 L431.41 59.09 L433.72 59.07" fill="none" stroke="#0000ff" stroke-width="3.8"/>
<line x1="136.55" y1="59.20" x2="284.95" y2="59.20" stroke="#a0522d" stroke-width="4" stroke-dasharray="5.7 5.715"/>
<line x1="284.95" y1="59.20" x2="435.6" y2="59.20" stroke="#a0522d" stroke-width="4" stroke-dasharray="5.8 5.26"/>
<line x1="111" y1="213.7" x2="124.5" y2="213.7" stroke="#a0522d" stroke-width="3"/>
<line x1="111" y1="234.8" x2="124.5" y2="234.8" stroke="#0000ff" stroke-width="3"/>
<line x1="111" y1="256.8" x2="124.5" y2="256.8" stroke="#006400" stroke-width="3"/>
<line x1="111" y1="278.6" x2="124.5" y2="278.6" stroke="#ff0000" stroke-width="3"/>
<line x1="111" y1="300.3" x2="124.5" y2="300.3" stroke="#808080" stroke-width="3"/>
<text x="256.4" y="28.5" font-size="17.0" text-anchor="middle" >Rotation Period (days)</text>
<text x="137.0" y="48.5" font-size="17.0" text-anchor="middle" >1400</text>
<text x="196.8" y="48.5" font-size="17.0" text-anchor="middle" >140</text>
<text x="256.6" y="48.5" font-size="17.0" text-anchor="middle" >14.</text>
<text x="316.4" y="48.5" font-size="17.0" text-anchor="middle" >1.4</text>
<text x="376.2" y="48.5" font-size="17.0" text-anchor="middle" >0.14</text>
<text x="436.0" y="48.5" font-size="17.0" text-anchor="middle" >0.014</text>
<text x="76.8" y="368.3" font-size="17.0" text-anchor="middle" >-2</text>
<text x="135.8" y="368.3" font-size="17.0" text-anchor="middle" >-1</text>
<text x="196.4" y="368.3" font-size="17.0" text-anchor="middle" >0</text>
<text x="256.2" y="368.3" font-size="17.0" text-anchor="middle" >1</text>
<text x="316.0" y="368.3" font-size="17.0" text-anchor="middle" >2</text>
<text x="375.8" y="368.3" font-size="17.0" text-anchor="middle" >3</text>
<text x="435.6" y="368.3" font-size="17.0" text-anchor="middle" >4</text>
<text x="70.5" y="338.2" font-size="17.0" text-anchor="end" >0</text>
<text x="70.5" y="284.1" font-size="17.0" text-anchor="end" >20</text>
<text x="70.5" y="222.0" font-size="17.0" text-anchor="end" >40</text>
<text x="70.5" y="160.0" font-size="17.0" text-anchor="end" >60</text>
<text x="70.5" y="97.9" font-size="17.0" text-anchor="end" >80</text>
<text x="242.6" y="393.9" font-size="17.2" text-anchor="end" >log(</text>
<text x="247.6" y="393.9" font-size="18.5" text-anchor="middle" font-style="italic" font-family="Liberation Serif" style="stroke:none">α</text>
<text x="258.0" y="393.9" font-size="17.2" text-anchor="start" >[&quot;/yr])</text>
<text transform="translate(33.2,224.2) rotate(-90)" font-size="17" text-anchor="start">(degree)</text>
<text transform="translate(33.4,237.2) rotate(-90)" font-size="15.5" text-anchor="start" font-style="italic" font-family="Liberation Serif" style="stroke:none">ε</text>
<text x="114.9" y="107.0" font-size="16.8" text-anchor="start" >K186 5-planets</text>
<text x="138.2" y="218.5" font-size="15.0" text-anchor="start" >0.&quot;/yr</text>
<text x="138.2" y="239.6" font-size="15.0" text-anchor="start" >-11.68&quot;/yr</text>
<text x="138.2" y="261.6" font-size="15.0" text-anchor="start" >-736.7&quot;/yr</text>
<text x="138.2" y="283.4" font-size="15.0" text-anchor="start" >-1520.&quot;/yr</text>
<text x="138.2" y="305.1" font-size="15.0" text-anchor="start" >-2406.&quot;/yr</text>
</svg></body></html>
